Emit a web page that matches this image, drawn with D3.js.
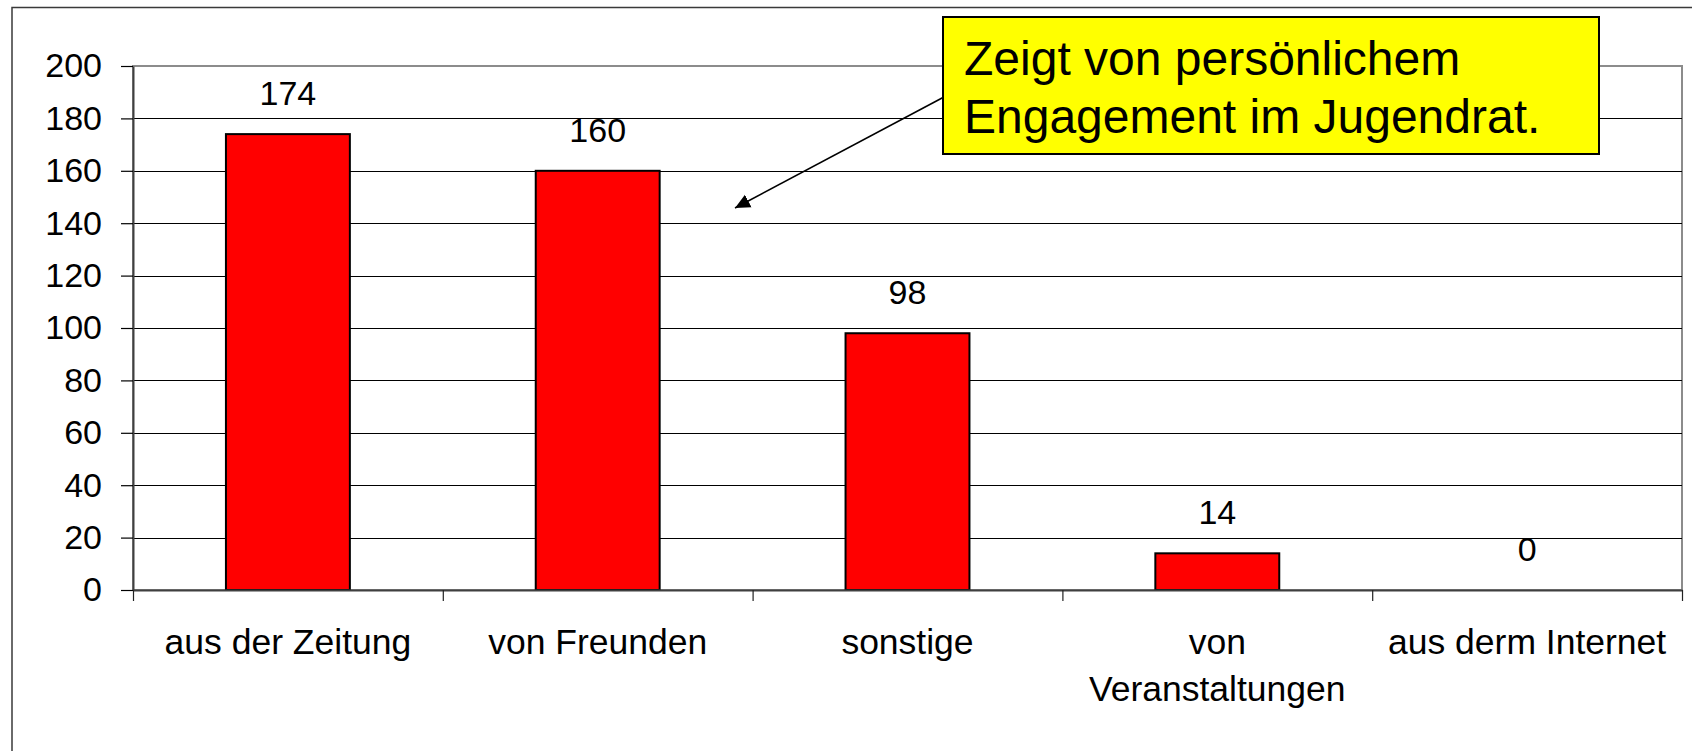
<!DOCTYPE html>
<html>
<head>
<meta charset="utf-8">
<script src="https://cdn.jsdelivr.net/npm/d3@7"></script>
<style>
  body { margin: 0; background: #fff; }
  svg { display: block; font-family: "Liberation Sans", Arial, sans-serif; }
</style>
</head>
<body>
<div id="chart"></div>
<script>
// data
const categories = ["aus der Zeitung", "von Freunden", "sonstige", "von\nVeranstaltungen", "aus derm Internet"]
const counts = [174, 160, 98, 14, 0]
const yTicks = [0, 20, 40, 60, 80, 100, 120, 140, 160, 180, 200]
const noteLines = ["Zeigt von persönlichem", "Engagement im Jugendrat."]

const width = 1692
const height = 751
const plot = { left: 133, right: 1682, top: 66, bottom: 590 }

const dataset = categories.map((c, i) => ({ category: c, value: counts[i] }))

// 1. svg + outer frame
const svg = d3.select("#chart").append("svg").attr("width", width).attr("height", height)

svg
  .append("rect")
  .attr("x", 12)
  .attr("y", 7.5)
  .attr("width", width + 20)
  .attr("height", height + 20)
  .attr("fill", "white")
  .attr("stroke", "#3a3a3a")
  .attr("stroke-width", 1.5)

// 2. scales
const xScale = d3
  .scaleBand()
  .domain(categories)
  .range([plot.left, plot.right])
  .paddingInner(0.6)
  .paddingOuter(0.3)
const xEdges = d3.scaleLinear().domain([0, categories.length]).range([plot.left, plot.right])
const yScale = d3.scaleLinear().domain([0, 200]).range([plot.bottom, plot.top])

// 3. plot area border (grey top + right)
svg
  .append("rect")
  .attr("x", plot.left)
  .attr("y", plot.top)
  .attr("width", plot.right - plot.left)
  .attr("height", plot.bottom - plot.top)
  .attr("fill", "white")
  .attr("stroke", "#8c8c8c")
  .attr("stroke-width", 2)

// 4. gridlines
svg
  .append("g")
  .selectAll("line")
  .data(yTicks.filter((t) => t > 0 && t < 200))
  .enter()
  .append("line")
  .attr("x1", plot.left)
  .attr("x2", plot.right)
  .attr("y1", (d) => Math.round(yScale(d)) + 0.5)
  .attr("y2", (d) => Math.round(yScale(d)) + 0.5)
  .attr("stroke", "black")
  .attr("stroke-width", 1)

// 5. bars
svg
  .append("g")
  .selectAll("rect")
  .data(dataset.filter((d) => d.value > 0))
  .enter()
  .append("rect")
  .attr("x", (d) => xScale(d.category))
  .attr("y", (d) => yScale(d.value))
  .attr("width", xScale.bandwidth())
  .attr("height", (d) => yScale(0) - yScale(d.value))
  .attr("fill", "#ff0000")
  .attr("stroke", "black")
  .attr("stroke-width", 2)

// 6. axes
const yAxis = d3.axisLeft(yScale).tickValues(yTicks).tickSize(12).tickPadding(19).tickSizeOuter(0)
const yAxisG = svg.append("g").attr("transform", `translate(${plot.left}, 0)`).call(yAxis)
yAxisG.select(".domain").attr("stroke", "#404040").attr("stroke-width", 2)
yAxisG.selectAll(".tick line").attr("stroke", "black").attr("stroke-width", 1.2)
yAxisG
  .selectAll(".tick text")
  .attr("font-family", "Liberation Sans, Arial, sans-serif")
  .attr("font-size", 34)
  .attr("fill", "black")

const xAxis = d3.axisBottom(xEdges).tickValues(d3.range(categories.length + 1)).tickFormat("").tickSize(11).tickSizeOuter(0)
const xAxisG = svg.append("g").attr("transform", `translate(0, ${plot.bottom})`).call(xAxis)
xAxisG.select(".domain").attr("stroke", "#404040").attr("stroke-width", 2)
xAxisG.selectAll(".tick line").attr("stroke", "#222").attr("stroke-width", 1.2)

// 7. category labels (may wrap over two lines)
const catLabels = svg
  .append("g")
  .selectAll("text")
  .data(categories)
  .enter()
  .append("text")
  .attr("x", (d) => xScale(d) + xScale.bandwidth() / 2)
  .attr("y", 654)
  .attr("text-anchor", "middle")
  .attr("font-size", 35.5)
  .attr("fill", "black")

catLabels
  .selectAll("tspan")
  .data((d) => d.split("\n").map((line) => ({ line, x: xScale(d) + xScale.bandwidth() / 2 })))
  .enter()
  .append("tspan")
  .attr("x", (d) => d.x)
  .attr("dy", (d, i) => (i === 0 ? 0 : 47))
  .text((d) => d.line)

// 8. value labels
svg
  .append("g")
  .selectAll("text")
  .data(dataset)
  .enter()
  .append("text")
  .attr("x", (d) => xScale(d.category) + xScale.bandwidth() / 2)
  .attr("y", (d) => yScale(d.value) - 29)
  .attr("text-anchor", "middle")
  .attr("font-size", 34)
  .attr("fill", "black")
  .text((d) => d.value)

// 9. callout with arrow
svg
  .append("defs")
  .append("marker")
  .attr("id", "arrowHead")
  .attr("markerUnits", "userSpaceOnUse")
  .attr("viewBox", "0 -8 16 16")
  .attr("refX", 15)
  .attr("refY", 0)
  .attr("markerWidth", 16)
  .attr("markerHeight", 16)
  .attr("orient", "auto")
  .append("path")
  .attr("d", "M0,-7L15,0L0,7Z")
  .attr("fill", "black")

svg
  .append("line")
  .attr("x1", 943)
  .attr("y1", 97.5)
  .attr("x2", 735)
  .attr("y2", 208)
  .attr("stroke", "black")
  .attr("stroke-width", 1.6)
  .attr("marker-end", "url(#arrowHead)")

svg
  .append("rect")
  .attr("x", 943)
  .attr("y", 17)
  .attr("width", 656)
  .attr("height", 137)
  .attr("fill", "#ffff00")
  .attr("stroke", "black")
  .attr("stroke-width", 2)

svg
  .append("g")
  .selectAll("text")
  .data(noteLines)
  .enter()
  .append("text")
  .attr("x", 964)
  .attr("y", (d, i) => 75 + i * 58)
  .attr("font-size", 48)
  .attr("fill", "black")
  .text((d) => d)
</script>
</body>
</html>
